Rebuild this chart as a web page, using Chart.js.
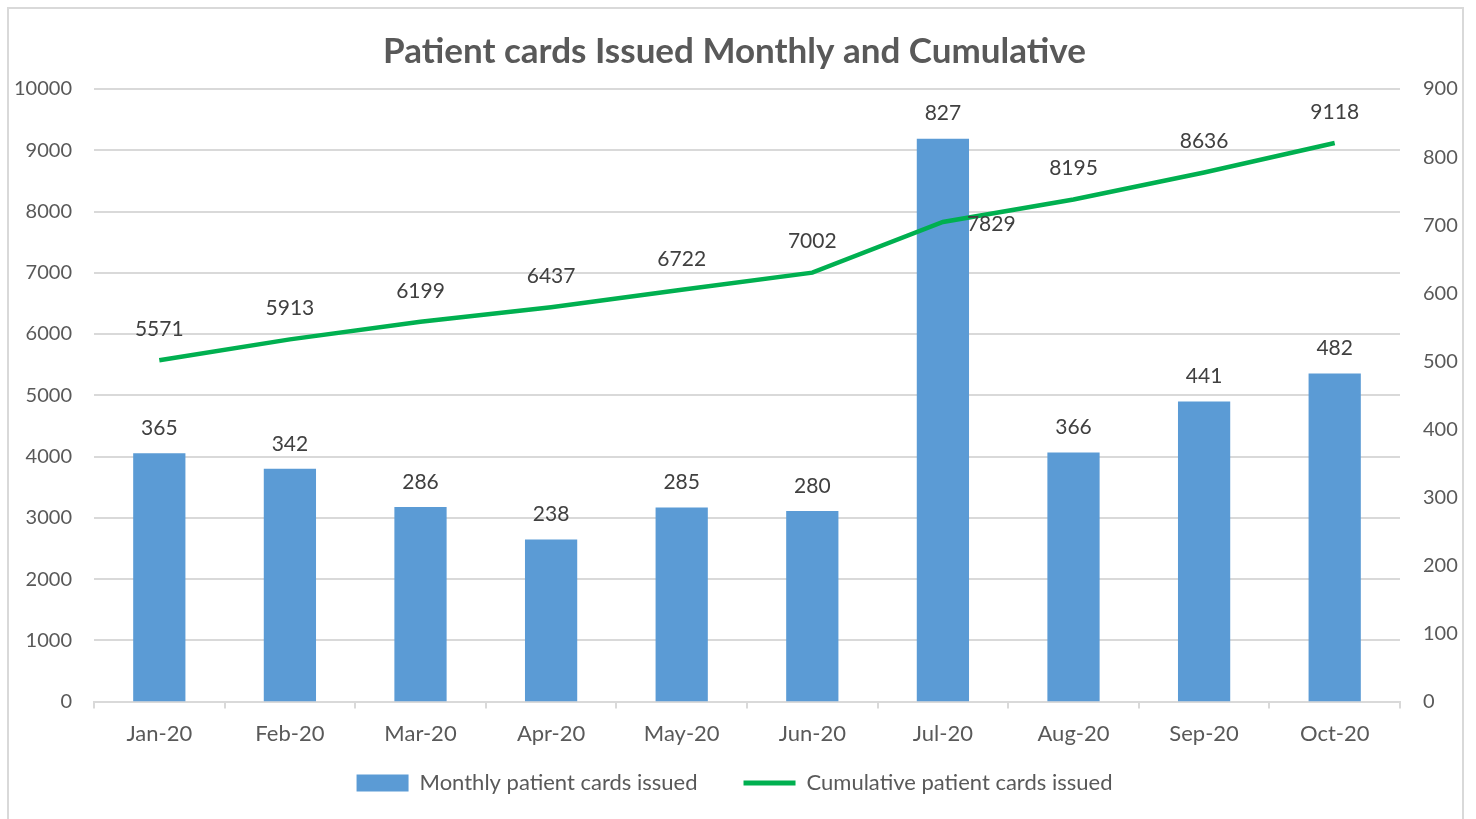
<!DOCTYPE html>
<html>
<head>
<meta charset="utf-8">
<script src="https://cdn.jsdelivr.net/npm/chart.js@4/dist/chart.umd.min.js"></script>
<style>
  body { margin: 0; background: #fff; overflow: hidden; }
  .frame {
    position: absolute; left: 7px; top: 7px; width: 1453px; height: 830px;
    border: 2px solid #d9d9d9; border-bottom: none;
  }
  .wrap { position: absolute; left: 9px; top: 9px; width: 1451px; height: 810px; }
</style>
</head>
<body>
<div class="frame"></div>
<div class="wrap"><canvas id="chart"></canvas></div>
<script>
const MONTHS = [`Jan-20`, `Feb-20`, `Mar-20`, `Apr-20`, `May-20`, `Jun-20`, `Jul-20`, `Aug-20`, `Sep-20`, `Oct-20`];
const MONTHLY = [365, 342, 286, 238, 285, 280, 827, 366, 441, 482];
const CUMULATIVE = [5571, 5913, 6199, 6437, 6722, 7002, 7829, 8195, 8636, 9118];
// where each cumulative label sits relative to its point
const CUMULATIVE_LABEL_POS = [`above`, `above`, `above`, `above`, `above`, `above`, `right`, `above`, `above`, `above`];

const FONT = `Lato, "Open Sans", sans-serif`;
const TEXT = `#595959`;

// simple data labels, no plugin available offline
const valueLabels = {
  id: `valueLabels`,
  afterDatasetsDraw(chart) {
    const ctx = chart.ctx;
    ctx.save();
    ctx.font = `21px ${FONT}`;
    ctx.fillStyle = `#404040`;
    ctx.textBaseline = `middle`;

    chart.getDatasetMeta(0).data.forEach((bar, i) => {
      ctx.textAlign = `center`;
      ctx.fillText(MONTHLY[i], bar.x, bar.y - 25);
    });

    chart.getDatasetMeta(1).data.forEach((pt, i) => {
      if (CUMULATIVE_LABEL_POS[i] === `right`) {
        ctx.textAlign = `left`;
        ctx.fillText(CUMULATIVE[i], pt.x + 24, pt.y + 2);
      } else {
        ctx.textAlign = `center`;
        ctx.fillText(CUMULATIVE[i], pt.x, pt.y - 31);
      }
    });
    ctx.restore();
  }
};

const ctx = document.getElementById(`chart`);

new Chart(ctx, {
  type: `bar`,
  plugins: [valueLabels],
  data: {
    labels: MONTHS,
    datasets: [
      {
        type: `bar`,
        label: `Monthly patient cards issued`,
        data: MONTHLY,
        yAxisID: `yRight`,
        backgroundColor: `#5b9bd5`,
        barPercentage: 0.8,
        categoryPercentage: 0.5,
        order: 2,
      },
      {
        type: `line`,
        label: `Cumulative patient cards issued`,
        data: CUMULATIVE,
        yAxisID: `yLeft`,
        borderColor: `#00b050`,
        backgroundColor: `#00b050`,
        borderWidth: 4.5,
        pointRadius: 0,
        tension: 0,
        order: 1,
      },
    ],
  },
  options: {
    responsive: true,
    maintainAspectRatio: false,
    animation: false,
    layout: {padding: {top: 0, bottom: 15, left: 0, right: 0}},
    plugins: {
      title: {
        display: true,
        text: `Patient cards Issued Monthly and Cumulative`,
        color: TEXT,
        font: {family: FONT, size: 35, weight: `bold`},
        padding: {top: 22, bottom: 16},
      },
      legend: {
        position: `bottom`,
        labels: {
          color: TEXT,
          font: {family: FONT, size: 22},
          usePointStyle: true,
          pointStyleWidth: 52,
          boxHeight: 17,
          padding: 13,
          generateLabels(chart) {
            const items = Chart.defaults.plugins.legend.labels.generateLabels(chart);
            items.sort((a, b) => a.datasetIndex - b.datasetIndex);
            items.forEach((it) => {
              if (it.datasetIndex === 0) {
                it.pointStyle = `rect`;
                it.lineWidth = 0;
                it.strokeStyle = `#5b9bd5`;
                it.fillStyle = `#5b9bd5`;
                // legend padding is shared with vertical spacing, widen the gap here
                it.text = it.text + `\u2003\u2003`;
              } else {
                it.pointStyle = `line`;
                it.lineWidth = 5;
                it.strokeStyle = `#00b050`;
              }
            });
            return items;
          },
        },
      },
      tooltip: {enabled: false},
    },
    scales: {
      x: {
        grid: {
          offset: true,
          drawOnChartArea: false,
          drawTicks: true,
          tickLength: 7,
          color: `#d9d9d9`,
          lineWidth: 2,
        },
        border: {color: `#d9d9d9`, width: 2},
        ticks: {color: TEXT, font: {family: FONT, size: 22}, padding: 12},
      },
      yLeft: {
        position: `left`,
        min: 0,
        max: 10000,
        ticks: {
          stepSize: 1000,
          color: TEXT,
          font: {family: FONT, size: 20},
          padding: 22,
          callback: (v) => String(v),
        },
        grid: {color: `#d9d9d9`, lineWidth: 2, drawTicks: false},
        border: {display: false},
        afterFit(scale) { scale.width = 85; },
      },
      yRight: {
        position: `right`,
        min: 0,
        max: 900,
        ticks: {
          stepSize: 100,
          color: TEXT,
          font: {family: FONT, size: 20},
          padding: 23,
          callback: (v) => String(v),
        },
        grid: {display: false, drawTicks: false},
        border: {display: false},
        afterFit(scale) { scale.width = 60; },
      },
    },
  },
});
</script>
</body>
</html>
